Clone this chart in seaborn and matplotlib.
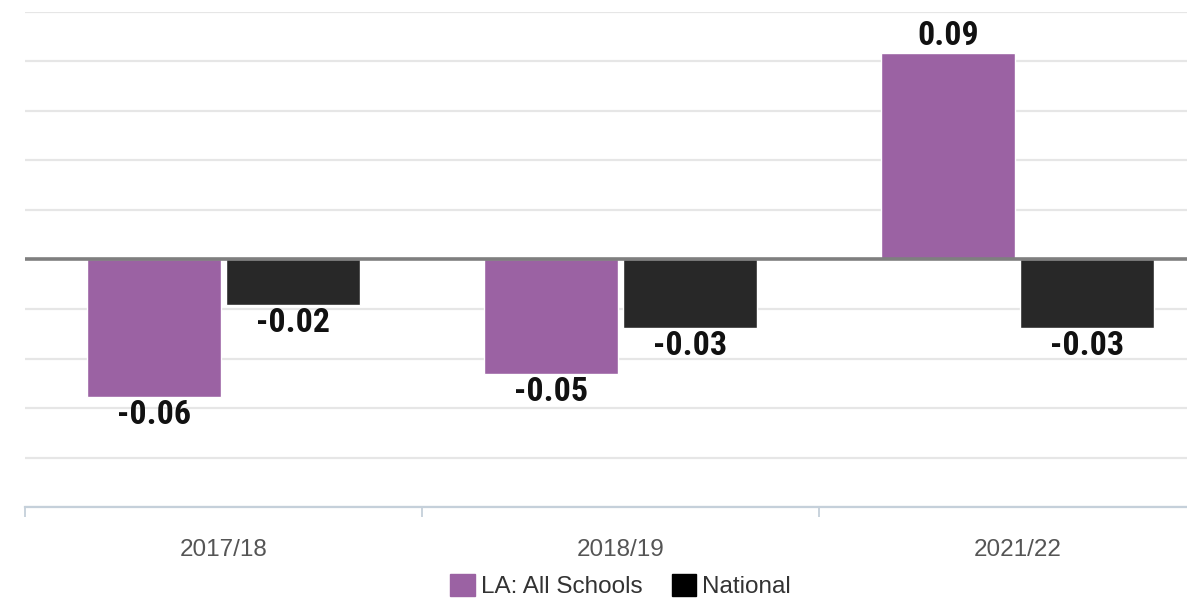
import numpy as np
import pandas as pd
import matplotlib
matplotlib.use('Agg')
import matplotlib.pyplot as plt
import seaborn as sns
from matplotlib.patches import Patch

# values
years = ['2017/18', '2018/19', '2021/22']
la_all_schools = [-0.06, -0.05, 0.09]
national = [-0.02, -0.03, -0.03]
series_names = ['LA: All Schools', 'National']
colours = ['#9b62a3', '#282828']

df = pd.DataFrame({
    'year': years * 2,
    'value': la_all_schools + national,
    'series': [series_names[0]] * len(years) + [series_names[1]] * len(years),
})

sns.set_style('white')
plt.rcParams['font.family'] = ['Liberation Sans', 'DejaVu Sans']

W, H = 1187, 608
fig = plt.figure(figsize=(W / 100, H / 100), dpi=100)
ax = fig.add_axes([25 / W, 100.7 / H, 1191 / W, 495.6 / H])

sns.barplot(data=df, x='year', y='value', hue='series', palette=colours,
            width=0.70, gap=0.03, saturation=1, legend=False, ax=ax, zorder=3)

ax.set_xlim(-0.5, 2.5)
ax.set_ylim(-0.108, 0.108)
ax.set_yticks(np.arange(-5, 6) * 0.0216)
ax.yaxis.grid(True, color='#e6e6e6', lw=1.6, zorder=0)
ax.set_yticklabels([])
ax.tick_params(axis='y', length=0)
ax.axhline(0, color='#7f7f7f', lw=2.6, zorder=4)

for s in ['left', 'top', 'right']:
    ax.spines[s].set_visible(False)
ax.spines['bottom'].set_color('#c5d0da')
ax.spines['bottom'].set_linewidth(1.6)

ax.set_xticks([-0.5, 0.5, 1.5, 2.5], minor=True)
ax.tick_params(axis='x', which='minor', bottom=True, length=7, width=1.3, color='#c5d0da')
ax.tick_params(axis='x', which='major', length=0, pad=23, labelsize=17.5, labelcolor='#555555')
ax.set_xlabel('')
ax.set_ylabel('')

for cont in ax.containers:
    ax.bar_label(cont, fmt='%.2f', padding=1, fontsize=24.5, fontweight='bold',
                 family=['Roboto Condensed', 'Liberation Sans Narrow', 'Liberation Sans'],
                 color='#111111', zorder=5)

handles = [Patch(facecolor=c, edgecolor=c) for c in ['#9b62a3', '#000000']]
fig.legend(handles, series_names, loc='center', bbox_to_anchor=(620.5 / W, 22 / H),
           ncol=2, frameon=False, fontsize=17.5, labelcolor='#333333',
           handlelength=1.0, handleheight=1.0, handletextpad=0.25, columnspacing=1.2)

fig.savefig('out.png', dpi=100)
